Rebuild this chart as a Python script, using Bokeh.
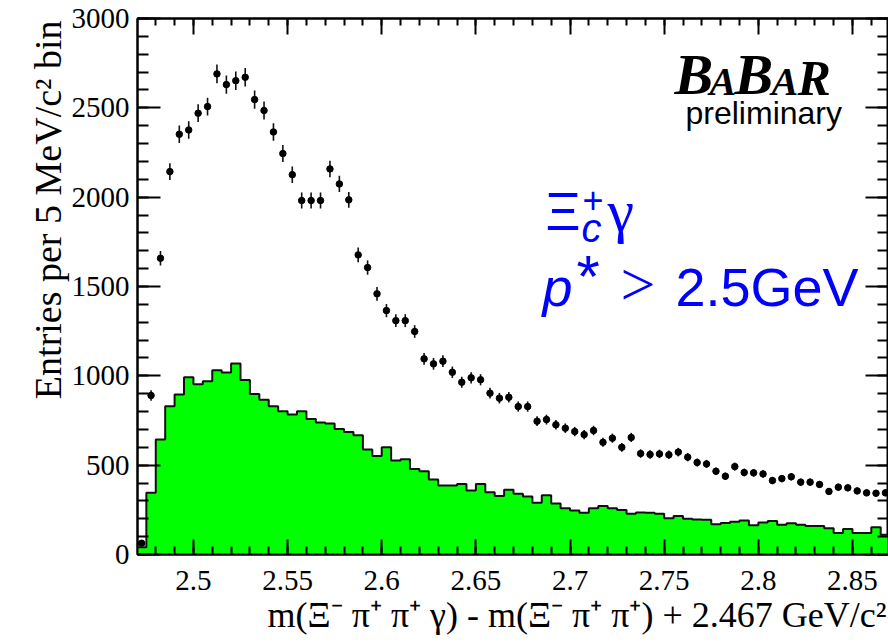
import numpy as np
from bokeh.plotting import figure
from bokeh.models import Range1d, LinearAxis, SingleIntervalTicker, FixedTicker, Label, Title
from bokeh.embed import file_html
from bokeh.resources import INLINE

# ---------------- data ----------------
bin_start = 2.47
bin_width = 0.005

data_counts = [63, 890, 1658, 2143, 2352, 2376, 2470, 2507, 2690, 2630,
               2652, 2671, 2546, 2485, 2365, 2244, 2126, 1981, 1981, 1981,
               2158, 2074, 1985, 1677, 1606, 1459, 1365, 1309, 1309, 1248,
               1095, 1067, 1082, 1020, 964, 989, 978, 903, 875, 880,
               828, 828, 746, 755, 726, 707, 688, 671, 694, 628,
               651, 600, 655, 565, 560, 563, 558, 573, 545, 515,
               507, 466, 438, 492, 459, 457, 451, 414, 425, 435,
               405, 405, 392, 353, 377, 373, 356, 345, 343, 345]

bkg_counts = [40, 345, 643, 830, 895, 992, 953, 970, 1031, 1018,
              1069, 977, 899, 866, 830, 802, 783, 802, 759, 739,
              733, 703, 686, 668, 588, 552, 600, 526, 533, 479,
              466, 420, 386, 386, 395, 358, 394, 349, 328, 362,
              340, 325, 289, 332, 285, 259, 246, 233, 259, 272,
              259, 249, 228, 235, 233, 228, 203, 216, 200, 196,
              194, 170, 177, 183, 190, 164, 179, 188, 166, 175,
              166, 159, 160, 147, 121, 143, 121, 121, 153, 110]

x_tick_values = [2.5, 2.55, 2.6, 2.65, 2.7, 2.75, 2.8, 2.85]
x_tick_labels = ["2.5", "2.55", "2.6", "2.65", "2.7", "2.75", "2.8", "2.85"]
x_minor_ticks = [round(2.47 + 0.01 * k, 3) for k in range(41)]

x_title = "m(Ξ⁻ π⁺ π⁺ γ) - m(Ξ⁻ π⁺ π⁺) + 2.467 GeV/c²"
y_title = "Entries per 5 MeV/c² bin"

n_bins = len(data_counts)
edges = bin_start + bin_width * np.arange(n_bins + 1)
centers = 0.5 * (edges[:-1] + edges[1:])
counts = np.array(data_counts, dtype=float)
errs = np.sqrt(counts)

# ---------------- layout ----------------
W, H = 888, 643
FR_L, FR_R, FR_T, FR_B = 137, 888, 18, 554
X0 = 2.4703
X1 = X0 + (FR_R - FR_L) / 1883.0

def sx(px):
    return X0 + (px - FR_L) * (X1 - X0) / (FR_R - FR_L)

def sy(py):
    return (FR_B - py) * 3000.0 / (FR_B - FR_T)

p = figure(width=W, height=H, x_range=Range1d(X0, X1), y_range=Range1d(0, 3000),
           output_backend="svg", toolbar_location=None,
           x_axis_location=None, y_axis_location=None,
           min_border_left=FR_L, min_border_right=W - FR_R,
           min_border_top=FR_T, min_border_bottom=H - FR_B)
p.background_fill_color = "white"
p.border_fill_color = "white"
p.outline_line_color = "black"
p.outline_line_width = 2
for g in p.grid:
    g.visible = False

serif = "Liberation Serif"
sans = "Liberation Sans"

xt = FixedTicker(ticks=x_tick_values, minor_ticks=x_minor_ticks)
yt = SingleIntervalTicker(interval=500, num_minor_ticks=5)

def style_axis(ax, tin, min_in, show_labels, standoff):
    ax.axis_line_color = "black"
    ax.axis_line_width = 2
    ax.major_tick_line_color = "black"
    ax.minor_tick_line_color = "black"
    ax.major_tick_line_width = 2
    ax.minor_tick_line_width = 2
    ax.major_tick_in = tin
    ax.major_tick_out = 0
    ax.minor_tick_in = min_in
    ax.minor_tick_out = 0
    ax.major_label_standoff = standoff
    if show_labels:
        ax.major_label_text_font = serif
        ax.major_label_text_font_size = "29px"
        ax.major_label_text_color = "black"
    else:
        ax.major_label_text_font_size = "0px"

bottom = LinearAxis(ticker=xt, major_label_overrides={v: s for v, s in zip(x_tick_values, x_tick_labels)})
style_axis(bottom, 15, 8, True, 16)
top = LinearAxis(ticker=xt)
style_axis(top, 16, 7, False, 0)
left = LinearAxis(ticker=yt)
style_axis(left, 23, 11, True, 8)
right = LinearAxis(ticker=yt)
style_axis(right, 23, 11, False, 0)

p.add_layout(bottom, "below")
p.add_layout(top, "above")
p.add_layout(left, "left")
p.add_layout(right, "right")

p.add_layout(Title(text=x_title, align="right", text_font=serif, text_font_size="36px",
                   text_font_style="normal", text_color="black", standoff=0, offset=2), "below")
p.add_layout(Title(text=y_title, align="right", text_font=serif, text_font_size="38px",
                   text_font_style="normal", text_color="black", standoff=0, offset=2), "left")

# ---------------- glyphs ----------------
step_y = list(bkg_counts) + [bkg_counts[-1]]
p.varea_step(x=list(edges), y1=[0] * len(step_y), y2=step_y, step_mode="after",
             fill_color="#00ff00")
p.step(x=list(edges), y=step_y, mode="after", line_color="#111111", line_width=2)

p.segment(x0=centers, y0=counts - errs, x1=centers, y1=counts + errs,
          line_color="#111111", line_width=1.6)
p.scatter(x=centers, y=counts, size=6.5, fill_color="black", line_color="black")

# ---------------- texts ----------------
def lab(text, px, py, size, font=sans, style="normal", color="black", align="left"):
    # baseline correction (Bokeh places alphabetic baseline ~0.36em lower)
    py_adj = py - 0.36 * size
    p.add_layout(Label(x=sx(px), y=sy(py_adj), text=text, text_font=font, text_font_size=f"{size}px",
                       text_font_style=style, text_color=color, text_align=align,
                       text_baseline="alphabetic"))

blue = "#0000ff"
lab("Ξ", 545, 230, 54, color=blue)
lab("+", 582, 212, 36, color=blue)
lab("c", 581, 242, 40, style="italic", color=blue)
lab("γ", 607, 232, 60, font=serif, color=blue)
lab("p", 542, 306, 54, style="italic", color=blue)
lab("*", 576, 298, 60, color=blue)
lab(">", 620, 306, 62, font=serif, color=blue)
lab("2.5GeV", 675, 306, 54, color=blue)

lab("B", 674, 95, 58, font=serif, style="bold italic")
lab("A", 709, 95, 40, font=serif, style="bold italic")
lab("B", 734, 95, 58, font=serif, style="bold italic")
lab("A", 771, 95, 40, font=serif, style="bold italic")
lab("R", 797, 95, 50, font=serif, style="bold italic")
lab("preliminary", 685, 124, 32)

open("out.html", "w").write(file_html(p, INLINE))
